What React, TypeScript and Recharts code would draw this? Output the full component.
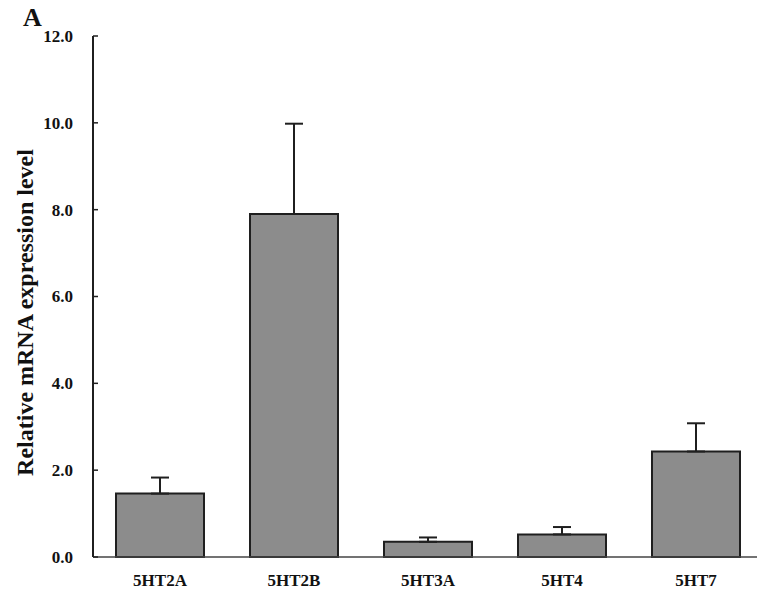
import React from "react";
import { BarChart, Bar, XAxis, YAxis, ErrorBar } from "recharts";

// Receptor subtypes on the category axis
const receptors = ["5HT2A", "5HT2B", "5HT3A", "5HT4", "5HT7"];
// Mean relative expression per receptor
const meanLevels = [1.46, 7.9, 0.35, 0.52, 2.43];
// Upper error (SD) per receptor
const upperErrors = [0.37, 2.08, 0.1, 0.17, 0.65];
// Y-axis tick values
const yTicks = [0, 2, 4, 6, 8, 10, 12];

const data = receptors.map((name, i) => ({
  name,
  level: meanLevels[i],
  err: [0, upperErrors[i]],
}));

const FONT = '"Liberation Serif", "Times New Roman", serif';
const INK = "#1f1f1f";
const Y_TICK_MARGIN = 20;

const YTick = (props: any) => {
  const { x, y, payload } = props;
  const axisX = x + Y_TICK_MARGIN;
  return (
    <g>
      <line x1={axisX} y1={y} x2={axisX + 5} y2={y} stroke={INK} strokeWidth={1.5} />
      <text
        x={x}
        y={y}
        dy="0.35em"
        textAnchor="end"
        fontFamily={FONT}
        fontWeight="bold"
        fontSize={17}
        fill="#111"
      >
        {Number(payload.value).toFixed(1)}
      </text>
    </g>
  );
};

const YLabel = (props: any) => {
  const vb = props.viewBox || {};
  const cx = (vb.x || 0) + 25;
  const cy = (vb.y || 0) + (vb.height || 0) / 2 + 16;
  return (
    <text
      x={cx}
      y={cy}
      transform={`rotate(-90, ${cx}, ${cy})`}
      textAnchor="middle"
      dominantBaseline="central"
      fontFamily={FONT}
      fontWeight="bold"
      fontSize={24}
      fill="#111"
    >
      Relative mRNA expression level
    </text>
  );
};

export default function App() {
  return (
    <div
      style={{
        position: "absolute",
        left: 0,
        top: 0,
        width: 757,
        height: 595,
        overflow: "hidden",
        background: "#fff",
      }}
    >
      <div
        style={{
          position: "absolute",
          left: 23,
          top: 5,
          fontFamily: FONT,
          fontWeight: "bold",
          fontSize: 26,
          lineHeight: "26px",
          color: "#111",
        }}
      >
        A
      </div>
      <BarChart
        width={763}
        height={595}
        data={data}
        margin={{ top: 36, right: 0, bottom: 0, left: 0 }}
        barCategoryGap={0}
      >
        <XAxis
          dataKey="name"
          height={38}
          tickSize={0}
          tickMargin={17}
          axisLine={{ stroke: "#444", strokeWidth: 1.5 }}
          tick={{ fontFamily: FONT, fontWeight: "bold", fontSize: 17, fill: "#111" }}
          interval={0}
        />
        <YAxis
          width={93}
          domain={[0, 12]}
          ticks={yTicks}
          tickSize={0}
          tickMargin={Y_TICK_MARGIN}
          tick={<YTick />}
          axisLine={{ stroke: INK, strokeWidth: 2 }}
          tickLine={false}
          label={{ content: <YLabel /> }}
        />
        <Bar
          dataKey="level"
          barSize={88}
          fill="#8c8c8c"
          stroke={INK}
          strokeWidth={2}
          isAnimationActive={false}
        >
          <ErrorBar
            dataKey="err"
            direction="y"
            width={9}
            stroke={INK}
            strokeWidth={2}
          />
        </Bar>
      </BarChart>
    </div>
  );
}
